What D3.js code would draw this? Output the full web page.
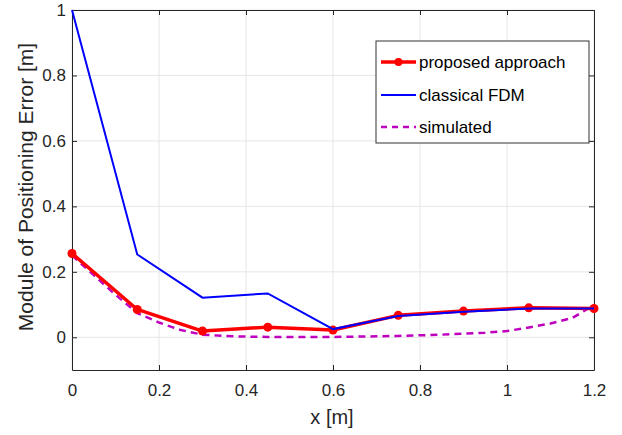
<!DOCTYPE html>
<html><head><meta charset="utf-8">
<script src="https://cdn.jsdelivr.net/npm/d3@7"></script>
<style>body{margin:0;background:#fff;}svg{display:block;font-family:"Liberation Sans",Arial,sans-serif;}</style>
</head><body><svg id="c" width="622" height="435"></svg>
<script>
const xs = [0, 0.15, 0.3, 0.45, 0.6, 0.75, 0.9, 1.05, 1.2];
const proposed = [0.256, 0.085, 0.019, 0.031, 0.022, 0.067, 0.080, 0.090, 0.088];
const classical = [1.0, 0.253, 0.121, 0.134, 0.025, 0.065, 0.078, 0.088, 0.088];
const simX = [0, 0.05, 0.1, 0.15, 0.2, 0.25, 0.3, 0.35, 0.4, 0.45, 0.5, 0.55, 0.6, 0.65, 0.7, 0.75, 0.8, 0.85, 0.9, 0.95, 1.0, 1.05, 1.1, 1.15, 1.2];
const simY = [0.25, 0.19, 0.13, 0.074, 0.045, 0.022, 0.008, 0.004, 0.002, 0.001, 0.001, 0.001, 0.001, 0.002, 0.003, 0.004, 0.006, 0.008, 0.011, 0.014, 0.019, 0.03, 0.042, 0.059, 0.098];
const xTicks = [0, 0.2, 0.4, 0.6, 0.8, 1, 1.2];
const yTicks = [0, 0.2, 0.4, 0.6, 0.8, 1];
const legendLabels = ["proposed approach", "classical FDM", "simulated"];

const L = 72, R = 594, T = 10, B = 370;
const svg = d3.select("#c");
const x = d3.scaleLinear().domain([0, 1.2]).range([L, R]);
const y = d3.scaleLinear().domain([-0.1, 1]).range([B, T]);
const axisCol = "#262626";

// grid
const g = svg.append("g");
g.selectAll(".gx").data(xTicks).enter().append("line")
  .attr("x1", d => x(d)).attr("x2", d => x(d)).attr("y1", T).attr("y2", B)
  .attr("stroke", "#e6e6e6").attr("stroke-width", 1);
g.selectAll(".gy").data(yTicks).enter().append("line")
  .attr("y1", d => y(d)).attr("y2", d => y(d)).attr("x1", L).attr("x2", R)
  .attr("stroke", "#e6e6e6").attr("stroke-width", 1);

// axes
const fmt = d => String(d);
const ax = (axis, tr) => {
  const a = svg.append("g").attr("transform", tr).call(axis);
  a.select(".domain").attr("stroke", axisCol);
  a.selectAll(".tick line").attr("stroke", axisCol);
  a.selectAll("text").attr("fill", axisCol).style("font-size", "17px").style("font-family", "'Liberation Sans',Arial,sans-serif");
  return a;
};
ax(d3.axisBottom(x).tickValues(xTicks).tickFormat(fmt).tickSizeInner(-5).tickSizeOuter(0).tickPadding(14), `translate(0,${B})`);
ax(d3.axisTop(x).tickValues(xTicks).tickFormat("").tickSizeInner(-5).tickSizeOuter(0), `translate(0,${T})`);
ax(d3.axisLeft(y).tickValues(yTicks).tickFormat(fmt).tickSizeInner(-5).tickSizeOuter(0).tickPadding(6), `translate(${L},0)`);
ax(d3.axisRight(y).tickValues(yTicks).tickFormat("").tickSizeInner(-5).tickSizeOuter(0), `translate(${R},0)`);

// lines
const line = d3.line().x(d => x(d[0])).y(d => y(d[1]));
svg.append("path").datum(simX.map((v, i) => [v, simY[i]])).attr("d", line)
  .attr("fill", "none").attr("stroke", "#bf00bf").attr("stroke-width", 2.5).attr("stroke-dasharray", "7,5");
svg.append("path").datum(xs.map((v, i) => [v, proposed[i]])).attr("d", line)
  .attr("fill", "none").attr("stroke", "#ff0000").attr("stroke-width", 3.5).attr("stroke-linejoin", "round");
svg.selectAll(".m").data(xs.map((v, i) => [v, proposed[i]])).enter().append("circle")
  .attr("cx", d => x(d[0])).attr("cy", d => y(d[1])).attr("r", 4.5).attr("fill", "#ff0000");
svg.append("path").datum(xs.map((v, i) => [v, classical[i]])).attr("d", line)
  .attr("fill", "none").attr("stroke", "#0000ff").attr("stroke-width", 2);

// labels
svg.append("text").attr("x", 332).attr("y", 424).attr("text-anchor", "middle")
  .attr("fill", axisCol).style("font-size", "20px").text("x [m]");
svg.append("text").attr("transform", `translate(33,187) rotate(-90)`).attr("text-anchor", "middle")
  .attr("fill", axisCol).style("font-size", "21px").text("Module of Positioning Error [m]");

// legend
const lg = svg.append("g");
lg.append("rect").attr("x", 376).attr("y", 41).attr("width", 213).attr("height", 102)
  .attr("fill", "#fff").attr("stroke", "#333").attr("stroke-width", 1);
const rows = [62, 95, 127];
const styles = [
  {c: "#ff0000", w: 3.5, dash: null, marker: true},
  {c: "#0000ff", w: 2, dash: null, marker: false},
  {c: "#bf00bf", w: 2.5, dash: "6,5", marker: false}
];
legendLabels.forEach((t, i) => {
  const s = styles[i];
  const ln = lg.append("line").attr("x1", 381).attr("x2", 416).attr("y1", rows[i]).attr("y2", rows[i])
    .attr("stroke", s.c).attr("stroke-width", s.w);
  if (s.dash) ln.attr("stroke-dasharray", s.dash);
  if (s.marker) lg.append("circle").attr("cx", 398.5).attr("cy", rows[i]).attr("r", 4).attr("fill", s.c);
  lg.append("text").attr("x", 419).attr("y", rows[i] + 6).attr("fill", "#000").style("font-size", "17px").text(t);
});
</script></body></html>
